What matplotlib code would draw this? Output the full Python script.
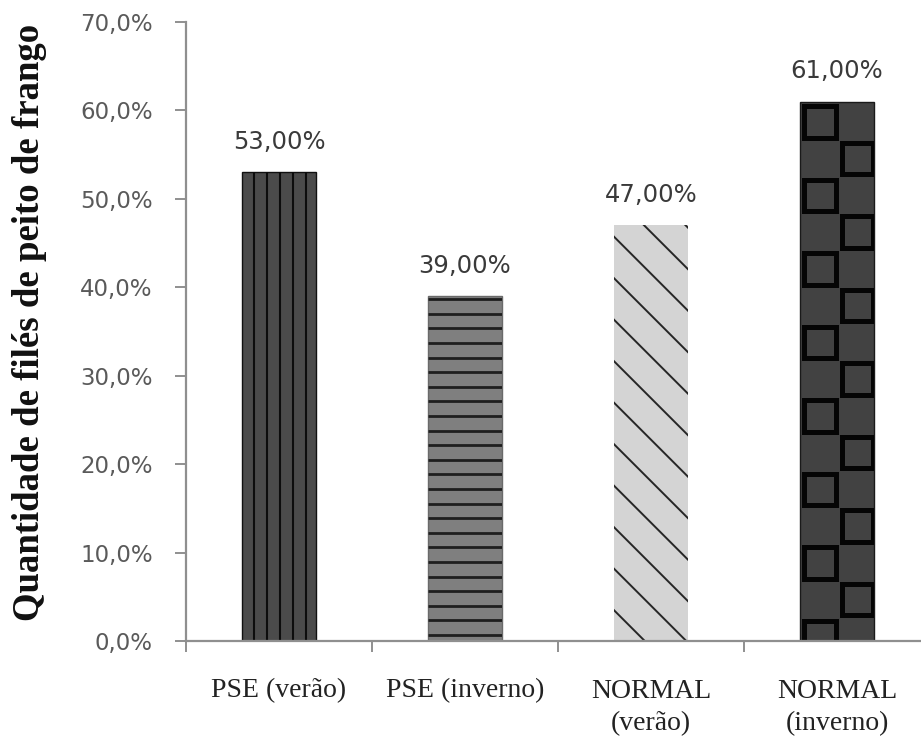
import matplotlib
matplotlib.use("Agg")
import matplotlib.pyplot as plt
import numpy as np


CATEGORIES = ["PSE (verão)", "PSE (inverno)", "NORMAL\n(verão)", "NORMAL\n(inverno)"]
VALUES = [53.0, 39.0, 47.0, 61.0]
Y_TICKS = [0, 10, 20, 30, 40, 50, 60, 70]
Y_LABEL = "Quantidade de filés de peito de frango"

BAR_FACES = ["#4b4b4b", "#7f7f7f", "#d4d4d4", "#424242"]
BAR_EDGES = ["#111111", "#6a6a6a", "none", "#1a1a1a"]
AXIS_GRAY = "#8f8f8f"


def pct_label(value, decimals):
    return f"{value:.{decimals}f}%".replace(".", ",")


def bar_pixels(bar):
    bb = bar.get_window_extent()
    return bb.x0, bb.y0, bb.x1, bb.y1


def draw_segment(ax, bar, p0, p1, color, lw):
    seg = ax.transData.inverted().transform([p0, p1])
    (line,) = ax.plot(seg[:, 0], seg[:, 1], color=color, lw=lw,
                      solid_capstyle="butt", zorder=3)
    # add_line resets clipping to the axes, so clip to the bar afterwards
    line.set_clip_path(bar)


def hatch_vertical(ax, bar, start, step, color, lw):
    x0, y0, x1, y1 = bar_pixels(bar)
    for x in np.arange(x0 + start, x1 - 3, step):
        draw_segment(ax, bar, (x, y0), (x, y1), color, lw)


def hatch_horizontal(ax, bar, start, step, color, lw):
    x0, y0, x1, y1 = bar_pixels(bar)
    for y in np.arange(y0 + start, y1 - 3, step):
        draw_segment(ax, bar, (x0, y), (x1, y), color, lw)


def hatch_diagonal(ax, bar, start, step, color, lw):
    # lines running down to the right: u + v = c in bar-relative pixels
    x0, y0, x1, y1 = bar_pixels(bar)
    w, h = x1 - x0, y1 - y0
    for c in np.arange(start, w + h, step):
        draw_segment(ax, bar, (x0 - 10, y0 + c + 10), (x0 + c + 10, y0 - 10), color, lw)


def hatch_squares(ax, bar, cell_h, inset, size, color, lw):
    x0, y0, x1, y1 = bar_pixels(bar)
    cell_w = (x1 - x0) / 2.0
    n_rows = int(np.ceil((y1 - y0) / cell_h)) + 1
    inv = ax.transData.inverted()
    for row in range(n_rows):
        col = row % 2
        left = x0 + col * cell_w + inset
        top = y1 - row * cell_h - inset
        (dx0, dy0), (dx1, dy1) = inv.transform([(left, top - size), (left + size, top)])
        sq = plt.Rectangle((dx0, dy0), dx1 - dx0, dy1 - dy0, facecolor="none",
                           edgecolor=color, lw=lw, zorder=3)
        ax.add_patch(sq)
        sq.set_clip_path(bar)


fig = plt.figure(figsize=(9.21, 7.42), dpi=100)
ax = fig.add_axes([186 / 921, 101 / 742, 735 / 921, 619 / 742])

x = np.arange(len(CATEGORIES))
ax.set_xlim(-0.5, -0.5 + 735 / 186)
ax.set_ylim(0, 70)
ax.set_autoscale_on(False)

bars = ax.bar(x, VALUES, width=0.4, color=BAR_FACES, edgecolor=BAR_EDGES,
              linewidth=1.0, zorder=2)

hatch_vertical(ax, bars[0], 12, 13, "#0d0d0d", 1.5)
hatch_horizontal(ax, bars[1], 6, 14.6, "#1e1e1e", 2.0)
hatch_diagonal(ax, bars[2], 31, 41.5, "#262626", 1.4)
hatch_squares(ax, bars[3], 36.75, 4.5, 31.5, "#050505", 3.6)

for xi, v in zip(x, VALUES):
    ax.annotate(pct_label(v, 2), (xi, v), xytext=(0, 17), textcoords="offset points",
                ha="center", va="baseline", fontsize=17.5, color="#3a3a3a",
                family="DejaVu Sans")

# axes styling
for side in ["top", "right"]:
    ax.spines[side].set_visible(False)
for side in ["left", "bottom"]:
    ax.spines[side].set_color(AXIS_GRAY)
    ax.spines[side].set_linewidth(1.6)
    ax.spines[side].set_zorder(4)

ax.set_yticks(Y_TICKS)
ax.set_yticklabels([pct_label(t, 1) for t in Y_TICKS], fontsize=16.5,
                   color="#5a5a5a", family="DejaVu Sans")
ax.tick_params(axis="y", direction="out", length=8, width=1.4, color=AXIS_GRAY, pad=16)

ax.set_xticks(x)
ax.set_xticklabels(CATEGORIES, fontsize=20, color="#222222",
                   family="Liberation Serif", linespacing=1.4)
ax.tick_params(axis="x", which="major", length=0, pad=27)
ax.set_xticks(np.arange(-0.5, len(CATEGORIES) - 0.5, 1.0), minor=True)
ax.tick_params(axis="x", which="minor", direction="out", length=8, width=1.4,
               color=AXIS_GRAY)

fig.text(30 / 921, 1 - 322 / 742, Y_LABEL, rotation=90, ha="center", va="center",
         fontsize=26.5, fontweight="bold", family="Liberation Serif", color="#111111")

fig.savefig("out.png", dpi=100)
plt.close(fig)
